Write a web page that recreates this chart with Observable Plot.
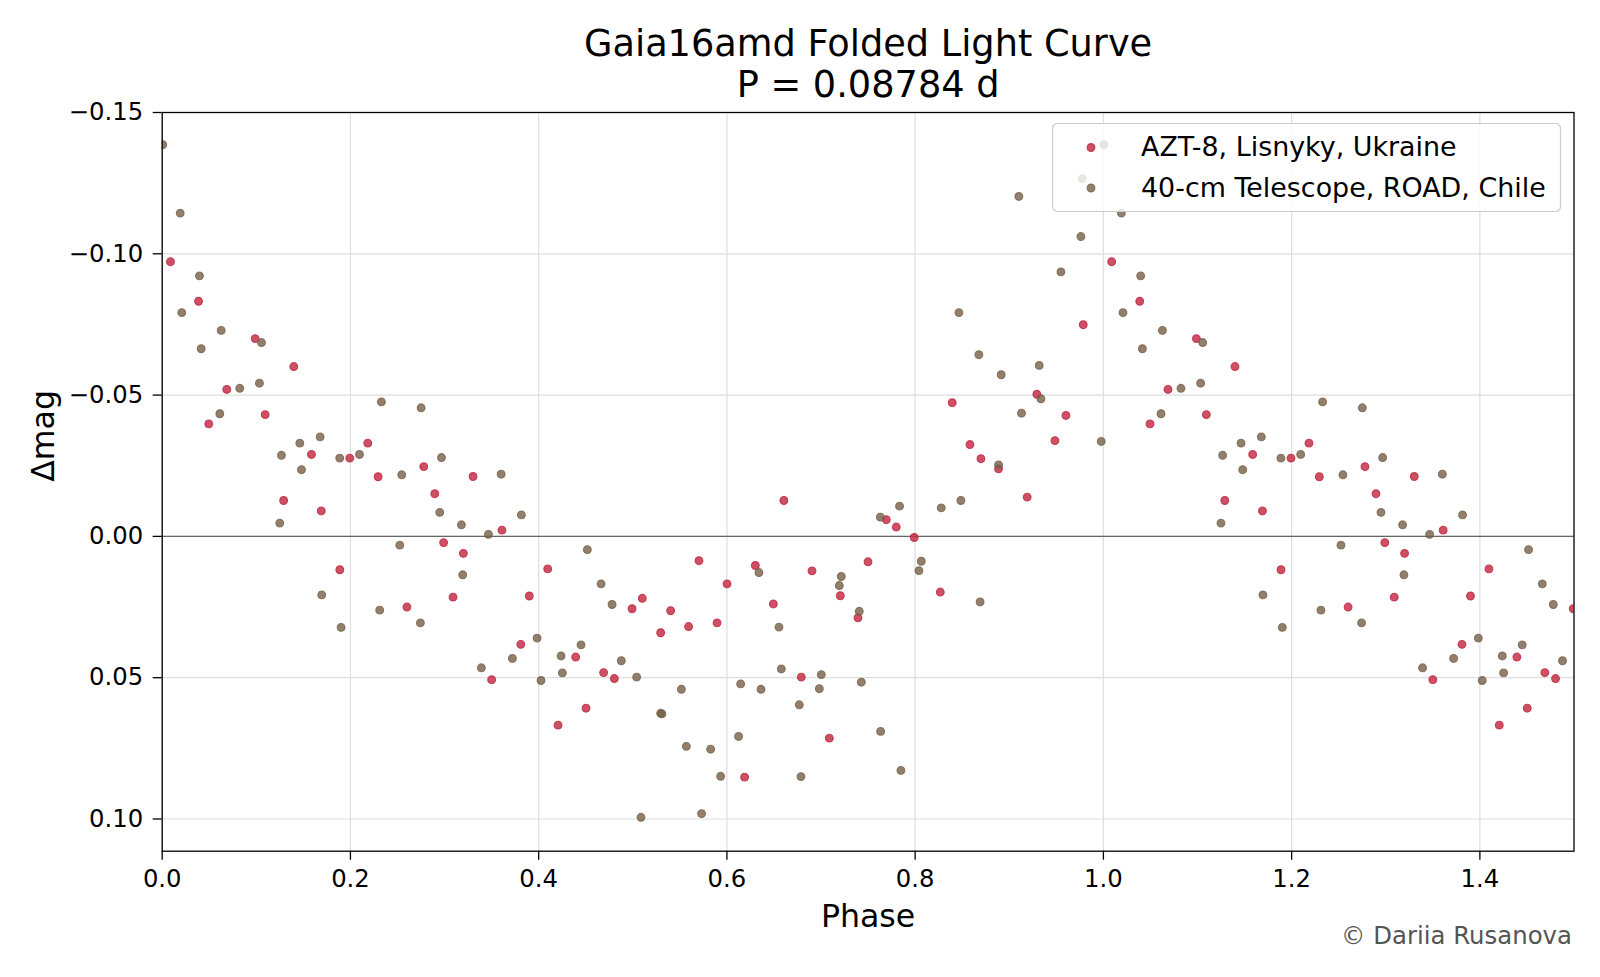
<!DOCTYPE html>
<html>
<head>
<meta charset="utf-8">
<script src="https://cdn.jsdelivr.net/npm/d3@7"></script>
<script src="https://cdn.jsdelivr.net/npm/@observablehq/plot@0.6"></script>
<style>
  html, body { margin: 0; padding: 0; background: #fff; }
  #wrap { position: relative; width: 1600px; height: 977px; overflow: hidden; font-family: "DejaVu Sans", sans-serif; }
  #legend { position: absolute; left: 1051.5px; top: 123px; }
</style>
</head>
<body>
<div id="wrap"></div>
<script>
// ---- Data (phase 0..1) ----
const seriesNames = ["AZT-8, Lisnyky, Ukraine", "40-cm Telescope, ROAD, Chile"];

const aztPhase = [0.0088,0.0386,0.0495,0.0686,0.0988,0.1094,0.1290,0.1398,0.1586,0.1690,
  0.1887,0.1993,0.2184,0.2294,0.2600,0.2779,0.2896,0.2990,0.3090,0.3200,
  0.3303,0.3500,0.3610,0.3810,0.3900,0.4096,0.4206,0.4393,0.4503,0.4690,
  0.4804,0.4992,0.5101,0.5296,0.5402,0.5593,0.5703,0.5895,0.6001,0.6188,
  0.6302,0.6493,0.6605,0.6790,0.6904,0.7088,0.7205,0.7392,0.7499,0.7693,
  0.7799,0.7990,0.8267,0.8394,0.8582,0.8699,0.8886,0.9190,0.9293,0.9485,
  0.9602,0.9786];
const aztMag = [-0.0972,-0.0832,-0.0398,-0.0520,-0.0700,-0.0431,-0.0127,-0.0601,-0.0290,-0.0090,
  0.0118,-0.0277,-0.0330,-0.0211,0.0250,-0.0247,-0.0151,0.0022,0.0215,0.0060,
  -0.0212,0.0507,-0.0022,0.0382,0.0211,0.0115,0.0668,0.0427,0.0608,0.0482,
  0.0503,0.0256,0.0219,0.0341,0.0263,0.0319,0.0086,0.0306,0.0168,0.0852,
  0.0103,0.0239,-0.0127,0.0498,0.0122,0.0714,0.0210,0.0288,0.0090,-0.0059,
  -0.0033,0.0004,0.0197,-0.0473,-0.0325,-0.0275,-0.0239,-0.0139,-0.0503,-0.0339,
  -0.0428,-0.0749];

const roadPhase = [0.0006,0.0191,0.0208,0.0396,0.0414,0.0612,0.0627,0.0824,0.1033,0.1055,
  0.1249,0.1267,0.1462,0.1480,0.1678,0.1695,0.1886,0.1901,0.2096,0.2311,
  0.2329,0.2524,0.2545,0.2743,0.2751,0.2949,0.2967,0.3179,0.3193,0.3391,
  0.3466,0.3601,0.3721,0.3816,0.3983,0.4025,0.4238,0.4252,0.4450,0.4517,
  0.4663,0.4780,0.4878,0.5041,0.5087,0.5296,0.5310,0.5516,0.5569,0.5731,
  0.5827,0.5933,0.6124,0.6146,0.6340,0.6362,0.6553,0.6578,0.6769,0.6787,
  0.6982,0.7003,0.7194,0.7215,0.7406,0.7428,0.7630,0.7633,0.7834,0.7849,
  0.8040,0.8065,0.8277,0.8465,0.8486,0.8677,0.8690,0.8886,0.8914,0.9102,
  0.9130,0.9318,0.9336,0.9549,0.9761,0.9776,0.9977];
const roadMag = [-0.1386,-0.1144,-0.0792,-0.0922,-0.0664,-0.0434,-0.0729,-0.0524,-0.0542,-0.0686,
  -0.0047,-0.0287,-0.0330,-0.0236,-0.0352,0.0207,-0.0277,0.0322,-0.0290,0.0261,
  -0.0476,0.0031,-0.0218,0.0306,-0.0455,-0.0085,-0.0279,-0.0041,0.0136,0.0465,
  -0.0007,-0.0220,0.0432,-0.0076,0.0360,0.0510,0.0423,0.0483,0.0384,0.0047,
  0.0168,0.0241,0.0440,0.0498,0.0994,0.0626,0.0628,0.0541,0.0743,0.0981,
  0.0753,0.0849,0.0708,0.0522,0.0128,0.0541,0.0321,0.0469,0.0596,0.0850,
  0.0539,0.0489,0.0174,0.0142,0.0265,0.0516,-0.0068,0.0690,-0.0107,0.0828,
  0.0121,0.0088,-0.0101,-0.0792,-0.0127,-0.0643,0.0232,-0.0253,-0.0572,-0.1203,
  -0.0436,-0.0605,-0.0487,-0.0936,-0.1061,-0.1266,-0.0336];

const xTicks = [0, 0.2, 0.4, 0.6, 0.8, 1.0, 1.2, 1.4];
const yTicks = [-0.15, -0.10, -0.05, 0, 0.05, 0.10];

const colors = ["#c0243f", "#776048"];

// folded table: each phase shown at p and p + 1 (clipped to [0, 1.5])
function fold(ph, mg) {
  const rows = [];
  ph.forEach((p, i) => {
    rows.push({phase: p, mag: mg[i]});
    rows.push({phase: p + 1, mag: mg[i]});
  });
  return rows;
}
const azt = fold(aztPhase, aztMag);
const road = fold(roadPhase, roadMag);

const dotStyle = (c) => ({
  x: "phase", y: "mag", r: 3.9,
  fill: c, fillOpacity: 0.8, stroke: c, strokeOpacity: 0.8, strokeWidth: 1.1,
  clip: true
});

const chart = Plot.plot({
  width: 1600,
  height: 977,
  marginTop: 112,
  marginRight: 26.5,
  marginBottom: 126.3,
  marginLeft: 161.7,
  style: {fontFamily: "DejaVu Sans", fontSize: "24.3px", background: "white", color: "black", overflow: "visible"},
  x: {domain: [0, 1.5]},
  y: {domain: [-0.15, 0.1114], reverse: true},
  marks: [
    Plot.gridX(xTicks, {stroke: "#dedede", strokeOpacity: 1, strokeWidth: 1.2}),
    Plot.gridY(yTicks, {stroke: "#dedede", strokeOpacity: 1, strokeWidth: 1.2}),
    Plot.ruleY([0], {stroke: "#666", strokeWidth: 1.3}),
    Plot.dot(azt, dotStyle(colors[0])),
    Plot.dot(road, dotStyle(colors[1])),
    Plot.frame({stroke: "black", strokeWidth: 1.3}),
    Plot.axisX(xTicks, {anchor: "bottom", tickSize: 9, tickPadding: 10, strokeWidth: 1.3,
      tickFormat: d3.format(".1f"), label: null, fontSize: 24.3}),
    Plot.axisY(yTicks, {anchor: "left", tickSize: 9, tickPadding: 10, strokeWidth: 1.3,
      tickFormat: d3.format(".2f"), label: null, fontSize: 24.3}),
    Plot.text(["Gaia16amd Folded Light Curve"], {text: d => d, frameAnchor: "top", dy: -56.5, lineAnchor: "bottom", fontSize: 36.7}),
    Plot.text(["P = 0.08784 d"], {text: d => d, frameAnchor: "top", dy: -16, lineAnchor: "bottom", fontSize: 36.7}),
    Plot.text(["Phase"], {text: d => d, frameAnchor: "bottom", dy: 75.3, lineAnchor: "bottom", fontSize: 31.6}),
    Plot.text(["Δmag"], {text: d => d, frameAnchor: "left", dx: -108.4, rotate: -90, lineAnchor: "bottom", fontSize: 31.6}),
    Plot.text(["© Dariia Rusanova"], {text: d => d, frameAnchor: "bottom-right", dx: -2, dy: 92.3,
      textAnchor: "end", lineAnchor: "bottom", fill: "#555", fontSize: 24.4})
  ]
});

const wrap = document.getElementById("wrap");
wrap.appendChild(chart);

// legend (semi-transparent box like the reference)
const ns = "http://www.w3.org/2000/svg";
const lg = document.createElementNS(ns, "svg");
lg.setAttribute("id", "legend");
lg.setAttribute("width", 512);
lg.setAttribute("height", 92);
const box = document.createElementNS(ns, "rect");
box.setAttribute("x", 0.5); box.setAttribute("y", 0.5);
box.setAttribute("width", 508); box.setAttribute("height", 88);
box.setAttribute("rx", 5);
box.setAttribute("fill", "white"); box.setAttribute("fill-opacity", 0.8);
box.setAttribute("stroke", "#cccccc"); box.setAttribute("stroke-width", 1.2);
lg.appendChild(box);
const rowsY = [24.5, 65];
const baseY = [33, 73.5];
seriesNames.forEach((name, i) => {
  const c = document.createElementNS(ns, "circle");
  c.setAttribute("cx", 39); c.setAttribute("cy", rowsY[i]); c.setAttribute("r", 3.9);
  c.setAttribute("fill", colors[i]); c.setAttribute("fill-opacity", 0.8);
  c.setAttribute("stroke", colors[i]); c.setAttribute("stroke-opacity", 0.8);
  c.setAttribute("stroke-width", 1.1);
  lg.appendChild(c);
  const t = document.createElementNS(ns, "text");
  t.setAttribute("x", 89); t.setAttribute("y", baseY[i]);
  t.setAttribute("font-family", "DejaVu Sans");
  t.setAttribute("font-size", 26.9);
  t.setAttribute("fill", "black");
  t.textContent = name;
  lg.appendChild(t);
});
wrap.appendChild(lg);
</script>
</body>
</html>
